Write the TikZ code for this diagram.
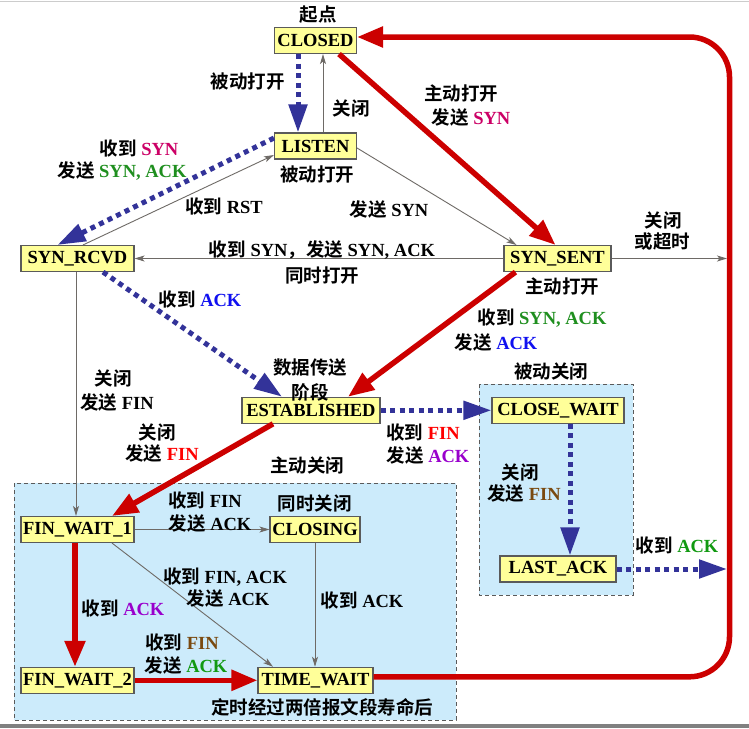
\documentclass[tikz,border=0pt]{standalone}
\usepackage{fontspec}
\setmainfont{Liberation Serif}
\newfontfamily\cjk{Noto Sans CJK SC}[BoldFont={Noto Sans CJK SC Bold}]
\usetikzlibrary{arrows.meta,calc}
\definecolor{nodefill}{HTML}{FFFF99}
\definecolor{nodeline}{HTML}{5A5A5A}
\definecolor{regfill}{HTML}{CCEBFB}
\definecolor{thinc}{HTML}{6E6A66}
\definecolor{redc}{HTML}{CC0000}
\definecolor{bluec}{HTML}{333399}
\definecolor{synm}{HTML}{CC0066}
\definecolor{sagreen}{HTML}{1F8F1F}
\definecolor{ackblue}{HTML}{1010F0}
\definecolor{finred}{HTML}{FF0000}
\definecolor{ackpurple}{HTML}{9900CC}
\definecolor{finbrown}{HTML}{7A4A10}
\definecolor{ackgreen}{HTML}{119911}
\newcommand\zh[1]{{\cjk #1}}
\begin{document}
\begin{tikzpicture}[x=1pt,y=-1pt,
  font=\fontsize{18.5}{21}\selectfont\bfseries,
  state/.style={draw=nodeline,fill=nodefill,line width=1.1pt,minimum height=26pt,inner sep=0pt},
  lbl/.style={inner sep=0pt,anchor=center},
  region/.style={draw=nodeline,fill=regfill,line width=0.8pt,dash pattern=on 4pt off 3pt},
  thin/.style={draw=thinc,line width=0.9pt,-{Stealth[length=10pt,width=6pt,inset=2.5pt]}},
  redarr/.style={draw=redc,line width=5.5pt,-{Triangle[length=26pt,width=20pt]}},
  bluearr/.style={draw=bluec,line width=5pt,dash pattern=on 5pt off 4.5pt,-{Triangle[length=28pt,width=18pt]}}
]
\useasboundingbox (0,0) rectangle (749,728);
\fill[white] (0,0) rectangle (749,728);
\draw[draw=black!20,line width=1pt] (0,1) -- (749,1);
\fill[black!50] (0,723.5) rectangle (749,728);

% regions
\path[region] (14,483) rectangle (456,720);
\path[region] (479,384) rectangle (633,595);

% states
\node[state,minimum width=82pt] (closed) at (315.5,40.5) {CLOSED};
\node[state,minimum width=82pt] (listen) at (315.5,146) {LISTEN};
\node[state,minimum width=113pt] (synrcvd) at (77.5,258.5) {SYN\_RCVD};
\node[state,minimum width=107pt] (synsent) at (557.5,258.5) {SYN\_SENT};
\node[state,minimum width=138pt] (est) at (311,410.3) {ESTABLISHED};
\node[state,minimum width=132pt] (closewait) at (558,410.3) {CLOSE\_WAIT};
\node[state,minimum width=116pt] (lastack) at (558,569) {LAST\_ACK};
\node[state,minimum width=113pt] (fw1) at (77.5,529.5) {FIN\_WAIT\_1};
\node[state,minimum width=90pt] (closing) at (315,529.5) {CLOSING};
\node[state,minimum width=113pt] (fw2) at (77.5,680.3) {FIN\_WAIT\_2};
\node[state,minimum width=115pt] (tw) at (315.5,680.3) {TIME\_WAIT};

\coordinate (timeoutend) at (727,258.5);
\coordinate (lastackend) at (727,569);

% thin gray transitions
\draw[thin] ([xshift=7.5pt]listen.north) -- ([xshift=7.5pt]closed.south);
\draw[thin] ([xshift=5.5pt]synrcvd.north) -- ([yshift=-9pt]listen.west);
\draw[thin] ([yshift=-2pt]listen.east) -- ([xshift=13pt]synsent.north west);
\draw[thin] (synsent.west) -- (synrcvd.east);
\draw[thin] (synsent.east) -- (timeoutend);
\draw[thin] ([xshift=-1.5pt]synrcvd.south) -- ([xshift=-1.5pt]fw1.north);
\draw[thin] (fw1.east) -- (closing.west);
\draw[thin] ([xshift=34.5pt]fw1.south) -- ([xshift=-42.5pt]tw.north);
\draw[thin] (closing.south) -- (closing.south |- tw.north);

% blue dotted transitions
\draw[bluearr] ([xshift=-17.5pt]closed.south) -- ([xshift=-17.5pt]listen.north);
\draw[bluearr] ([yshift=8pt]listen.west) -- ([xshift=-20pt]synrcvd.north);
\draw[bluearr] ([xshift=25.5pt]synrcvd.south) -- ([xshift=-29pt]est.north);
\draw[bluearr] (est.east) -- (closewait.west);
\draw[bluearr] ([xshift=12pt]closewait.south) -- ([xshift=12pt]lastack.north);
\draw[bluearr] (lastack.east) -- (lastackend);

% red transitions
\draw[redarr] ([xshift=-18pt]closed.south east) -- ([xshift=-2pt]synsent.north);
\draw[redarr] ([xshift=12pt]synsent.south west) -- ([xshift=37pt]est.north);
\draw[redarr] ([xshift=-38pt]est.south) -- ([xshift=34.5pt]fw1.north);
\draw[redarr] ([xshift=-2.5pt]fw1.south) -- ([xshift=-2.5pt]fw2.north);
\draw[redarr] (fw2.east) -- (tw.west);
\draw[redarr,rounded corners=40pt] ([yshift=3.5pt]tw.east) -- (729.5,676.8)
  -- (729.5,37) -- ([yshift=3.5pt]closed.east);

% labels
\node[lbl] (t1) at (318,15) {\zh{起点}};
\node[lbl] (t2) at (247.5,82) {\zh{被动打开}};
\node[lbl] (t3) at (351,108) {\zh{关闭}};
\node[lbl] (t4) at (461,93) {\zh{主动打开}};
\node[lbl] (t5) at (471,117) {\zh{发送} \textcolor{synm}{SYN}};
\node[lbl] (t6) at (139,148) {\zh{收到} \textcolor{synm}{SYN}};
\node[lbl] (t7) at (122,171) {\zh{发送} \textcolor{sagreen}{SYN, ACK}};
\node[lbl] (t8) at (317,175) {\zh{被动打开}};
\node[lbl] (t9) at (224,206) {\zh{收到} RST};
\node[lbl] (t10) at (389,209) {\zh{发送} SYN};
\node[lbl] (t11) at (663,220) {\zh{关闭}};
\node[lbl] (t12) at (662.5,242) {\zh{或超时}};
\node[lbl] (t13) at (322,250) {\zh{收到} SYN\zh{，发送} SYN, ACK};
\node[lbl] (t14) at (322,276) {\zh{同时打开}};
\node[lbl] (t15) at (562,286) {\zh{主动打开}};
\node[lbl] (t16) at (200,299) {\zh{收到} \textcolor{ackblue}{ACK}};
\node[lbl] (t17) at (542,318) {\zh{收到} \textcolor{sagreen}{SYN, ACK}};
\node[lbl] (t18) at (496,342) {\zh{发送} \textcolor{ackblue}{ACK}};
\node[lbl] (t19) at (310,368) {\zh{数据传送}};
\node[lbl] (t20) at (310,392) {\zh{阶段}};
\node[lbl] (t21) at (551,371) {\zh{被动关闭}};
\node[lbl] (t22) at (113,378) {\zh{关闭}};
\node[lbl] (t23) at (117,402) {\zh{发送} FIN};
\node[lbl] (t24) at (157,432) {\zh{关闭}};
\node[lbl] (t25) at (162,453) {\zh{发送} \textcolor{finred}{FIN}};
\node[lbl] (t26) at (423,432) {\zh{收到} \textcolor{finred}{FIN}};
\node[lbl] (t27) at (428,455) {\zh{发送} \textcolor{ackpurple}{ACK}};
\node[lbl] (t28) at (307,465) {\zh{主动关闭}};
\node[lbl] (t29) at (520,472) {\zh{关闭}};
\node[lbl] (t30) at (524,493) {\zh{发送} \textcolor{finbrown}{FIN}};
\node[lbl] (t31) at (205,500) {\zh{收到} FIN};
\node[lbl] (t32) at (210,523) {\zh{发送} ACK};
\node[lbl] (t33) at (314.5,503) {\zh{同时关闭}};
\node[lbl] (t34) at (677,545) {\zh{收到} \textcolor{ackgreen}{ACK}};
\node[lbl] (t35) at (225,577) {\zh{收到} FIN, ACK};
\node[lbl] (t36) at (228,598) {\zh{发送} ACK};
\node[lbl] (t37) at (362,600) {\zh{收到} ACK};
\node[lbl] (t38) at (123,608) {\zh{收到} \textcolor{ackpurple}{ACK}};
\node[lbl] (t39) at (182,642) {\zh{收到} \textcolor{finbrown}{FIN}};
\node[lbl] (t40) at (186,665) {\zh{发送} \textcolor{ackgreen}{ACK}};
\node[lbl] (t41) at (322,707) {\zh{定时经过两倍报文段寿命后}};
\end{tikzpicture}
\end{document}
